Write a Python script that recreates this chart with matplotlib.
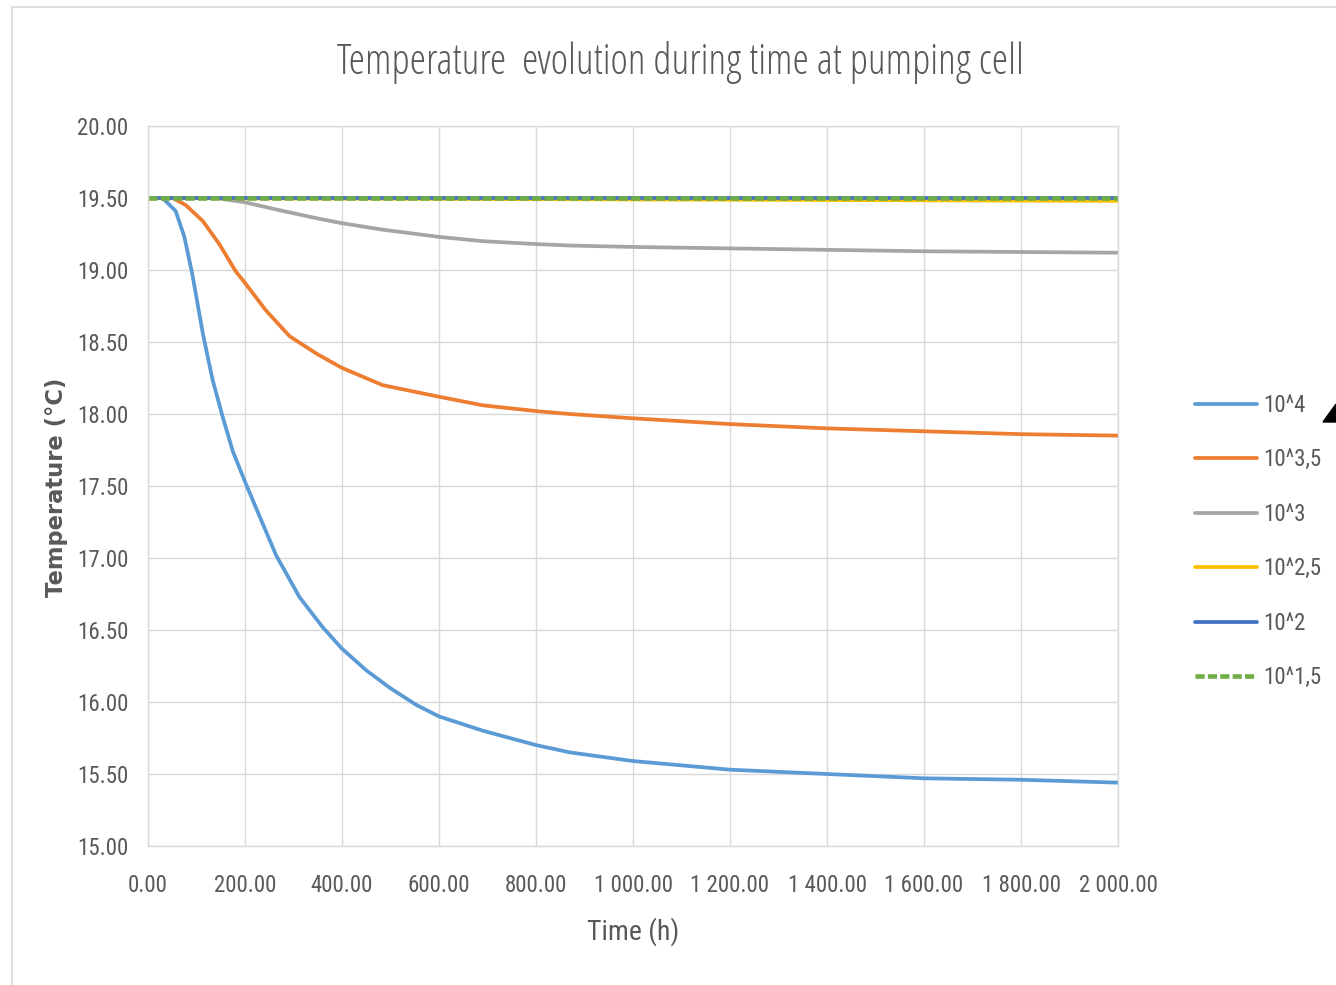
import os
import matplotlib
matplotlib.use("Agg")
import matplotlib.pyplot as plt
from matplotlib.patches import Polygon
from matplotlib import font_manager
from matplotlib.font_manager import FontProperties

# ---------------- data ----------------
time_a = [0, 30, 57, 75, 92, 113, 133, 154, 175, 200, 230, 264, 312, 360, 400, 450, 498, 553,
          600, 691, 801, 870, 1000, 1200, 1400, 1600, 1800, 2000]
t_1e4 = [19.50, 19.50, 19.41, 19.23, 18.96, 18.56, 18.24, 17.98, 17.74, 17.53, 17.29, 17.02,
         16.73, 16.52, 16.37, 16.22, 16.10, 15.98, 15.90, 15.80, 15.70, 15.65, 15.59, 15.53,
         15.50, 15.47, 15.46, 15.44]

time_b = [0, 51, 78, 113, 147, 181, 200, 243, 292, 347, 400, 484, 600, 691, 801, 870, 1000,
          1200, 1400, 1600, 1800, 2000]
t_1e35 = [19.50, 19.50, 19.45, 19.34, 19.18, 18.99, 18.91, 18.72, 18.54, 18.42, 18.32, 18.20,
          18.12, 18.06, 18.02, 18.00, 17.97, 17.93, 17.90, 17.88, 17.86, 17.85]

time_c = [0, 140, 200, 278, 347, 400, 484, 600, 691, 801, 870, 1000, 1200, 1400, 1600, 1800,
          2000]
t_1e3 = [19.50, 19.50, 19.47, 19.41, 19.36, 19.325, 19.28, 19.23, 19.20, 19.18, 19.17, 19.16,
         19.15, 19.14, 19.13, 19.125, 19.12]

time_d = [0, 500, 1000, 1500, 2000]
t_1e25 = [19.50, 19.495, 19.49, 19.485, 19.48]
t_1e2 = [19.50, 19.50, 19.50, 19.50, 19.50]
t_1e15 = [19.50, 19.50, 19.50, 19.50, 19.50]

series_labels = ["10^4", "10^3,5", "10^3", "10^2,5", "10^2", "10^1,5"]
x_ticks = [0, 200, 400, 600, 800, 1000, 1200, 1400, 1600, 1800, 2000]
x_ticklabels = ["0.00", "200.00", "400.00", "600.00", "800.00", "1 000.00", "1 200.00",
                "1 400.00", "1 600.00", "1 800.00", "2 000.00"]
y_ticks = [15.0, 15.5, 16.0, 16.5, 17.0, 17.5, 18.0, 18.5, 19.0, 19.5, 20.0]
y_ticklabels = [f"{v:.2f}" for v in y_ticks]


# ---------------- condensed font lookup ----------------
def _w(w):
    if isinstance(w, int):
        return w
    return font_manager.weight_dict.get(str(w).lower(), 400)


def find_condensed(target_weight):
    prefs = ["liberation sans narrow", "open sans", "noto sans", "roboto", "dejavu sans", "lato"]
    cands = []
    for f in font_manager.fontManager.ttflist:
        fn = os.path.basename(f.fname).lower()
        nm = f.name.lower()
        st = f.stretch
        cond = ("condensed" in fn or "narrow" in fn or "condensed" in nm or "narrow" in nm
                or (isinstance(st, str) and st in ("condensed", "semi-condensed"))
                or (isinstance(st, int) and st < 500))
        if not cond or "extra" in fn or "ultra" in fn or f.style != "normal":
            continue
        if "mono" in fn or "serif" in nm or "cjk" in nm:
            continue
        pr = len(prefs)
        for i, p in enumerate(prefs):
            if nm.startswith(p):
                pr = i
                break
        semi = 1 if "semi" in fn else 0
        cands.append((semi, abs(_w(f.weight) - target_weight), pr, f.fname))
    if not cands:
        return None
    cands.sort()
    return cands[0][3]


REG = find_condensed(400)
LIGHT = find_condensed(300) or REG


def fp(size, path=None):
    path = path or REG
    if path:
        return FontProperties(fname=path, size=size)
    return FontProperties(family="Liberation Sans", size=size * 0.85)


# ---------------- figure ----------------
fig = plt.figure(figsize=(13.36, 9.85), dpi=100)
W, H = 1336, 985
ax = fig.add_axes([148 / W, 1 - 846 / H, (1118 - 148) / W, (846 - 126) / H])

TXT = "#595959"
GRID = "#d9d9d9"
lw = 2.7
kw = dict(solid_joinstyle="round", solid_capstyle="round")
l1, = ax.plot(time_a, t_1e4, color="#5B9BD5", lw=lw, **kw)
l2, = ax.plot(time_b, t_1e35, color="#ED7D31", lw=lw, **kw)
l3, = ax.plot(time_c, t_1e3, color="#A5A5A5", lw=lw, **kw)
l4, = ax.plot(time_d, t_1e25, color="#FFC000", lw=lw, **kw)
l5, = ax.plot(time_d, t_1e2, color="#4472C4", lw=lw, **kw)
l6, = ax.plot(time_d, t_1e15, color="#70AD47", lw=3.3, ls=(0, (2.0, 0.7)))

ax.set_xlim(0, 2000)
ax.set_ylim(15, 20)
ax.set_xticks(x_ticks)
ax.set_xticklabels(x_ticklabels)
ax.set_yticks(y_ticks)
ax.set_yticklabels(y_ticklabels)
ax.grid(True, color=GRID, lw=1.0)
ax.set_axisbelow(True)
for s in ax.spines.values():
    s.set_color(GRID)
    s.set_linewidth(1.0)
ax.tick_params(length=0, colors=TXT)
ax.tick_params(axis="y", pad=14)
ax.tick_params(axis="x", pad=20)
for lab in ax.get_xticklabels() + ax.get_yticklabels():
    lab.set_fontproperties(fp(16.5))

fig.text(680 / W, 1 - 62 / H, "Temperature  evolution during time at pumping cell",
         ha="center", va="center", color=TXT, fontproperties=fp(30, LIGHT))
fig.text(633 / W, 1 - 932 / H, "Time (h)", ha="center", va="center",
         color=TXT, fontproperties=fp(20))
fig.text(57 / W, 1 - 487 / H, "Temperature (°C)", ha="center", va="center", rotation=90,
         fontsize=16.3, color=TXT, family="DejaVu Sans", fontweight="bold")

leg = fig.legend([l1, l2, l3, l4, l5, l6], series_labels, loc="upper left",
                 bbox_to_anchor=(1195 / W, 1 - 394 / H), frameon=False, borderpad=0,
                 borderaxespad=0, handlelength=2.7, handletextpad=0.26, labelspacing=1.37,
                 prop=fp(16.5))
for t in leg.get_texts():
    t.set_color(TXT)

# frame border of the original chart area (partly cropped)
fig.add_artist(plt.Line2D([12 / W, 12 / W], [0, 1 - 7 / H], color="#d9d9d9", lw=1.2,
                          transform=fig.transFigure))
fig.add_artist(plt.Line2D([12 / W, 1], [1 - 7 / H, 1 - 7 / H], color="#d9d9d9", lw=1.2,
                          transform=fig.transFigure))
# small black arrow head at the right edge
fig.add_artist(Polygon([[1323 / W, 1 - 422 / H], [1336 / W, 1 - 404 / H], [1336 / W, 1 - 422 / H]],
                       closed=True, color="black", transform=fig.transFigure))

fig.savefig("out.png", dpi=100)
